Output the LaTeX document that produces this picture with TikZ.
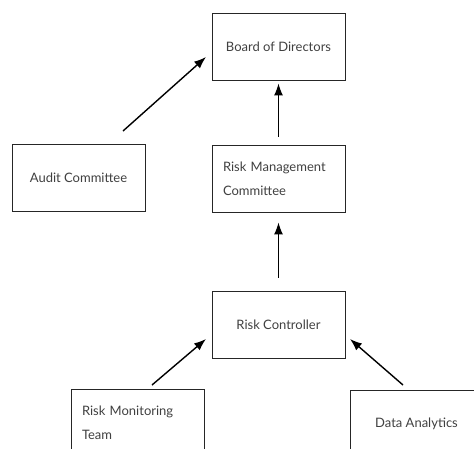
\documentclass[tikz,border=0pt]{standalone}
\usepackage{fontspec}
\setmainfont{Lato}
\usetikzlibrary{arrows.meta, positioning}

\begin{document}
\begin{tikzpicture}[>={Latex[length=12pt,width=9pt]}, x=1pt, y=-1pt,
    box/.style={draw=black!85, line width=0.8pt, minimum width=133pt, minimum height=67pt, inner sep=0pt, font=\fontsize{13}{24}\selectfont, text=black!75},
    twoline/.style={box, align=left, text width=111pt},
    link/.style={->, line width=1.4pt}]

    \useasboundingbox (0,0) rectangle (474,448);

    \node[box] (board) at (278.5,46.5) {Board of Directors};
    \node[box] (audit) at (78.5,177.5) {Audit Committee};
    \node[twoline] (rmc) at (278.5,178.5) {Risk Management \\ Committee};
    \node[box] (ctrl) at (278.5,324.5) {Risk Controller};
    \node[twoline] (team) at (137.5,422.5) {Risk Monitoring \\ Team};
    \node[box] (data) at (416.5,423.5) {Data Analytics};

    \coordinate (auditout) at (123,131);
    \coordinate (boardin) at (206,57);
    \coordinate (teamout) at (152,385);
    \coordinate (ctrlinw) at (206,339);
    \coordinate (dataout) at (403,385);
    \coordinate (ctrline) at (350,339);

    \draw[link] (auditout) -- (boardin);
    \draw[link] ([yshift=8pt] rmc.north) -- ([yshift=-3pt] board.south);
    \draw[link] ([yshift=13pt] ctrl.north) -- ([yshift=-10pt] rmc.south);
    \draw[link] (teamout) -- (ctrlinw);
    \draw[link] (dataout) -- (ctrline);

\end{tikzpicture}
\end{document}
